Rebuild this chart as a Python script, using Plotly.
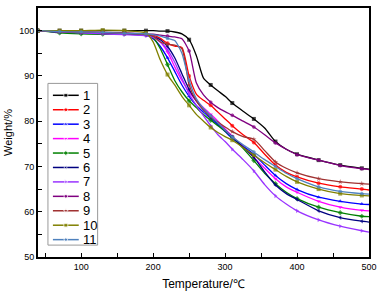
import plotly.graph_objects as go

temperature = [40, 70, 100, 130, 160, 190, 200, 210, 220, 230, 240, 250, 260, 270, 280,
               290, 300, 310, 325, 340, 355, 370, 385, 400, 430, 460, 490, 500]

series_names = ["1", "2", "3", "4", "5", "6", "7", "8", "9", "10", "11"]

w1 = [100, 100, 100, 100, 100, 100, 100, 99.9, 99.9, 99.7, 99.3, 98, 94.5, 89.5, 88,
      86.7, 85.5, 84, 82.2, 80.5, 78.5, 75.5, 73.8, 72.7, 71.4, 70.3, 69.6, 69.4]
w2 = [100, 99.8, 99.6, 99.5, 99.4, 99.2, 99, 98.3, 97.2, 96.6, 96.3, 90, 86, 84.6, 83.5,
      82, 80.5, 79, 77, 75.3, 72.7, 70.3, 68.7, 67.7, 66.3, 65.5, 65, 64.8]
w3 = [100, 99.7, 99.5, 99.4, 99.2, 99, 98.2, 96.5, 94, 91, 88, 85.5, 83.5, 82, 80.6,
      79.2, 77.7, 76.2, 74.5, 72.7, 70.3, 68, 66.2, 64.9, 63.2, 62.3, 61.7, 61.6]
w4 = [100, 99.8, 99.6, 99.4, 99.2, 99, 98.6, 97.5, 95.3, 92, 89, 86.5, 84.5, 83, 81.5,
      80, 78.3, 76.7, 74.3, 72, 69.6, 67.3, 65.5, 64.3, 62.3, 61, 60.3, 60.2]
w5 = [100, 99.5, 99.3, 99.2, 99.3, 99.2, 98.5, 96, 92.5, 89, 86.5, 84.5, 83, 81.5, 80.2,
      79, 77.8, 76.5, 74, 71.3, 68.5, 66.2, 64.3, 62.9, 61, 59.8, 59, 58.9]
w6 = [100, 99.7, 99.6, 99.5, 99.3, 99, 98.7, 98, 96.5, 94, 90.5, 87, 84.5, 82.5, 81,
      79.5, 78, 76.5, 74.3, 72, 68.8, 65.9, 64, 62.7, 60.2, 58.7, 57.9, 57.7]
w7 = [100, 99.7, 99.5, 99.3, 99.1, 98.9, 98.5, 97.5, 95.8, 93, 89.5, 86, 83.5, 81.2, 79,
      77, 75.5, 73.8, 71.5, 69, 66, 63.5, 61.7, 60.2, 58.2, 56.8, 55.8, 55.5]
w8 = [100, 99.8, 99.7, 99.6, 99.5, 99.3, 99.2, 99, 98.8, 98.6, 98.2, 95.5, 88.5, 85.8, 84.2,
      83, 82.1, 81.3, 80, 78.7, 77, 75.2, 73.8, 72.6, 71.4, 70.2, 69.5, 69.3]
w9 = [100, 99.8, 99.7, 99.6, 99.4, 99.2, 98.8, 97.5, 97, 96.8, 96, 88, 84.5, 82.5, 81,
      79.8, 78.7, 77.7, 76.6, 76, 73.5, 71, 69.6, 68.6, 67.3, 66.6, 66.2, 66.1]
w10 = [100, 100, 100, 100.1, 100, 99.5, 97.5, 93.5, 90.3, 88, 85.5, 83.5, 81.5, 80, 78.6,
       77.5, 76.6, 75.8, 74.2, 72.5, 70.8, 69.3, 67.8, 66.6, 65, 64, 63.6, 63.5]
w11 = [100, 99.8, 99.7, 99.6, 99.4, 99.3, 99.1, 98.8, 98.3, 97.8, 95, 89, 85, 82.8, 81.2,
       79.6, 78, 76.5, 74.8, 73.2, 71.5, 70, 68.5, 67.3, 65.5, 64.5, 64, 63.9]

weights = [w1, w2, w3, w4, w5, w6, w7, w8, w9, w10, w11]

colors = ["#000000", "#FF0000", "#0000FF", "#FF00FF", "#008000", "#000080",
          "#9933FF", "#800080", "#A03232", "#808000", "#4F81BD"]
symbols = ["square", "circle", "triangle-up", "triangle-down", "diamond", "triangle-left",
           "triangle-right", "hexagon", "star", "square", "pentagon"]

# plot area in pixels
W, H = 383, 295
L, R, T, B = 38, 12, 6, 38
pw, ph = W - L - R, H - T - B

fig = go.Figure()

marker_sizes = [4 if (t - 40) % 30 == 0 else 0 for t in temperature]

for name, w, c, s in zip(series_names, weights, colors, symbols):
    fig.add_trace(go.Scatter(
        x=temperature, y=w, name=name, mode="lines+markers",
        line=dict(color=c, width=1.3, shape="spline", smoothing=0.6),
        marker=dict(color=c, symbol=s, size=marker_sizes, line=dict(width=0)),
        showlegend=False,
    ))

# manual legend (compact, like the original)
lx0, lx1 = 48, 98
ly0, ly1 = 82, 245
fig.add_shape(type="rect", xref="paper", yref="paper",
              x0=(lx0 - L) / pw, x1=(lx1 - L) / pw,
              y0=(H - B - ly1) / ph, y1=(H - B - ly0) / ph,
              line=dict(color="#999999", width=1), fillcolor="rgba(0,0,0,0)", layer="below")
first_y, step = 94, 14.55
for i, (name, c, s) in enumerate(zip(series_names, colors, symbols)):
    py = first_y + i * step
    yy = (H - B - py) / ph
    xa, xb = (53 - L) / pw, (79 - L) / pw
    fig.add_trace(go.Scatter(
        x=[xa, (xa + xb) / 2, xb], y=[yy, yy, yy], xaxis="x2", yaxis="y2",
        mode="lines+markers", line=dict(color=c, width=1.5),
        marker=dict(color=c, symbol=s, size=[0, 4, 0]), showlegend=False,
        hoverinfo="skip", cliponaxis=False,
    ))
    fig.add_annotation(x=(81 - L) / pw, y=yy, xref="paper", yref="paper",
                       text=name, showarrow=False, xanchor="left", yanchor="middle",
                       font=dict(family="Liberation Sans, Arial", size=13, color="black"))

axis_common = dict(
    showline=True, linecolor="black", linewidth=2, mirror=True,
    ticks="inside", ticklen=4, tickwidth=1, tickcolor="black",
    showgrid=False, zeroline=False,
    tickfont=dict(family="Liberation Sans, Arial", size=9, color="black"),
)

fig.update_layout(
    width=W, height=H,
    margin=dict(l=L, r=R, t=T, b=B),
    plot_bgcolor="white", paper_bgcolor="white",
    xaxis=dict(range=[40, 500], dtick=100, tick0=0,
               minor=dict(dtick=50, ticks="inside", ticklen=4, tickcolor="black"),
               title=dict(text="Temperature/℃", standoff=9,
                          font=dict(family="Liberation Sans, Arial", size=12, color="black")),
               **axis_common),
    yaxis=dict(range=[50, 105], dtick=10, tick0=0,
               minor=dict(dtick=5, ticks="inside", ticklen=4, tickcolor="black"),
               title=dict(text="Weight/%", standoff=4,
                          font=dict(family="Liberation Sans, Arial", size=11, color="black")),
               **axis_common),
    xaxis2=dict(overlaying="x", range=[0, 1], visible=False, fixedrange=True),
    yaxis2=dict(overlaying="y", range=[0, 1], visible=False, fixedrange=True),
    showlegend=False,
)

fig.write_html("out.html", config={"displayModeBar": False},
               post_script="document.body.style.margin='0';")
